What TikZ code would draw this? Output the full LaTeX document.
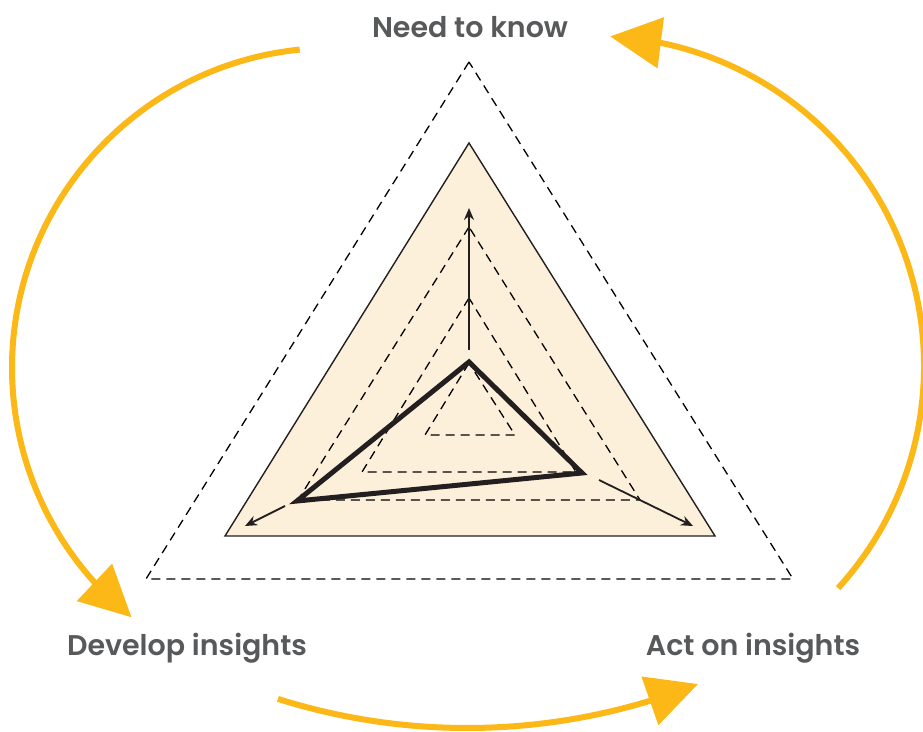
\documentclass[tikz,border=0pt]{standalone}
\usepackage{fontspec}
\setmainfont{Poppins}[BoldFont={Poppins SemiBold}]
\usetikzlibrary{arrows.meta,bending}

\definecolor{cycleorange}{HTML}{FBB817}
\definecolor{areafill}{HTML}{FDF0DA}
\definecolor{labelgray}{HTML}{58595B}
\definecolor{inkdark}{HTML}{231F20}

\tikzset{
	stagelabel/.style={text=labelgray,font=\fontsize{28.5}{32}\selectfont\bfseries,inner sep=0pt},
	dashring/.style={draw=black,line width=1.3pt,dash pattern=on 9pt off 6pt},
	spoke/.style={draw=inkdark,line width=1.8pt,-{Stealth[length=12pt,width=10pt]}},
	orangearc/.style={draw=cycleorange,line width=6pt,-{Triangle[length=51pt,width=50pt,flex]}}
}

\begin{document}
\begin{tikzpicture}[x=1pt,y=1pt]
			\useasboundingbox (0,0) rectangle (923,731);

			% outer level
			\draw[dashring] (469,669) -- (146,152) -- (793,152) -- cycle;

			% filled area
			\draw[fill=areafill,draw=inkdark,line width=1.4pt] (469,588) -- (225,195) -- (715,195) -- cycle;

			% inner levels
			\draw[dashring] (469,504) -- (298,231) -- (640,231) -- cycle;
			\draw[dashring] (469,433) -- (362,259) -- (576,259) -- cycle;
			\draw[dashring] (469,368) -- (425,296) -- (515,296) -- cycle;

			% spokes
			\coordinate (N1) at (469,381);
			\coordinate (N2) at (469,523);
			\coordinate (D1) at (285,225);
			\coordinate (D2) at (245,205);
			\coordinate (A1) at (599,251);
			\coordinate (A2) at (693,205);
			\draw [spoke] (N1) -- (N2);
			\draw [spoke] (D1) -- (D2);
			\draw [spoke] (A1) -- (A2);

			% scores
			\coordinate (N) at (469,369);
			\coordinate (A) at (582,258);
			\coordinate (D) at (297,230);
			\draw[draw=inkdark,line width=5pt] (N) -- (A) -- (D) -- cycle;

			% stages
			\node[stagelabel] (need) at (470,704) {Need to know};
			\node[stagelabel] (develop) at (187,83) {Develop insights};
			\node[stagelabel] (act) at (753,83) {Act on insights};

			% cycle arcs
			\coordinate (L) at (299.7,681.4);
			\coordinate (B) at (277.9,32.1);
			\coordinate (R) at (838.1,142.9);
			\draw[orangearc] (L) arc[start angle=95.8,end angle=231.2,radius=320];
			\draw[orangearc] (B) arc[start angle=252.5,end angle=291.55,radius=629];
			\draw[orangearc] (R) arc[start angle=-42.3,end angle=87.2,radius=330];

		\end{tikzpicture}
\end{document}
